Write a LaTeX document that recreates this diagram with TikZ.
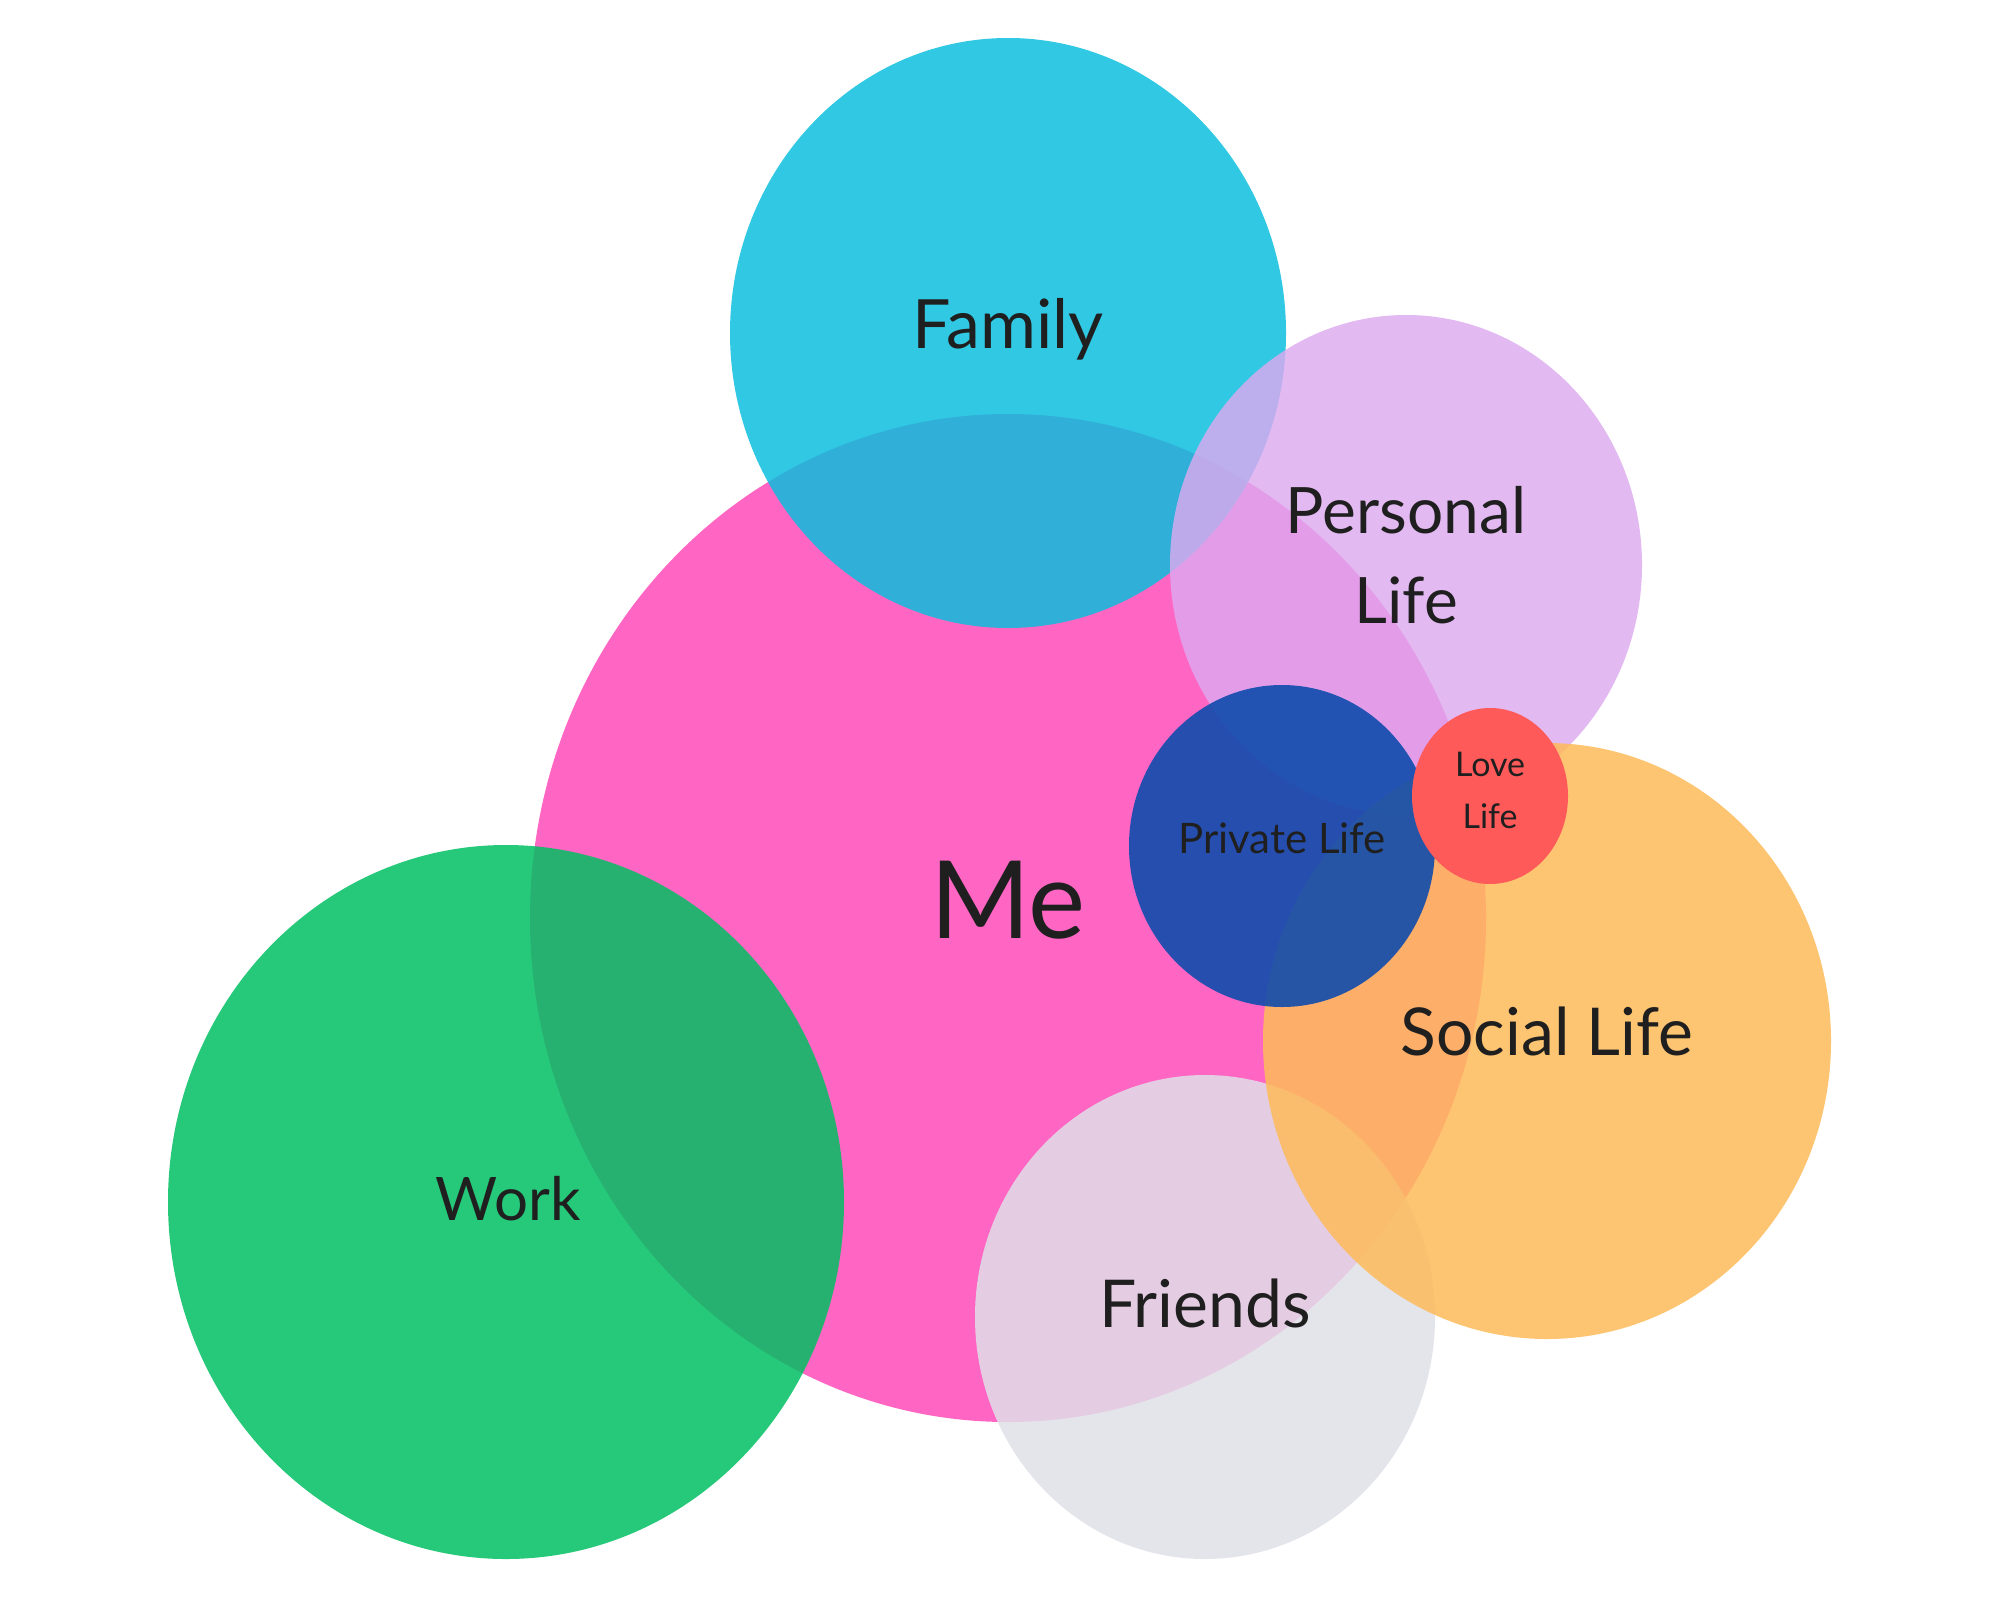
\documentclass[tikz,border=0pt]{standalone}
\usepackage{fontspec}
\setmainfont{Lato}
\begin{document}
\begin{tikzpicture}[x=0.5pt,y=-0.5pt,
  lbl/.style={text=black!88, align=center, inner sep=0pt}]
\definecolor{cme}{RGB}{255,102,196}
\definecolor{cwork}{RGB}{0,191,99}
\definecolor{cfam}{RGB}{9,190,222}
\definecolor{cpers}{RGB}{221,170,240}
\definecolor{cfri}{RGB}{224,224,232}
\definecolor{csoc}{RGB}{253,187,90}
\definecolor{cpriv}{RGB}{15,76,173}
\definecolor{clove}{RGB}{255,90,90}
\fill[white] (0,0) rectangle (2000,1600);
\useasboundingbox (0,0) rectangle (2000,1600);
% circles
\fill[cme] (1008,918) ellipse [x radius=478, y radius=504];
\fill[cwork, fill opacity=0.85] (506,1202) ellipse [x radius=338, y radius=357];
\fill[cfam, fill opacity=0.84] (1008,333) ellipse [x radius=278, y radius=295];
\fill[cpers, fill opacity=0.82] (1406,565) ellipse [x radius=236, y radius=250];
\fill[cfri, fill opacity=0.85] (1205,1317) ellipse [x radius=230, y radius=242];
\fill[csoc, fill opacity=0.855] (1547,1041) ellipse [x radius=284, y radius=298];
\fill[cpriv, fill opacity=0.9] (1282,846) ellipse [x radius=153, y radius=161];
\fill[clove] (1490,796) ellipse [x radius=78, y radius=88];
% labels
\node[lbl, font=\fontsize{34}{40}\selectfont] (family) at (1008,329) {Family};
\node[lbl, font=\fontsize{32}{45}\selectfont] (personal) at (1406,555) {Personal\\Life};
\node[lbl, font=\fontsize{21}{26}\selectfont] (private) at (1282,838) {Private Life};
\node[lbl, font=\fontsize{17}{26}\selectfont] (love) at (1490,790) {Love\\Life};
\node[lbl, font=\fontsize{54}{60}\selectfont] (me) at (1008,900) {Me};
\node[lbl, font=\fontsize{33}{40}\selectfont] (social) at (1547,1031) {Social Life};
\node[lbl, font=\fontsize{30}{36}\selectfont] (work) at (508,1199) {Work};
\node[lbl, font=\fontsize{33}{40}\selectfont] (friends) at (1205,1303) {Friends};
\end{tikzpicture}
\end{document}
